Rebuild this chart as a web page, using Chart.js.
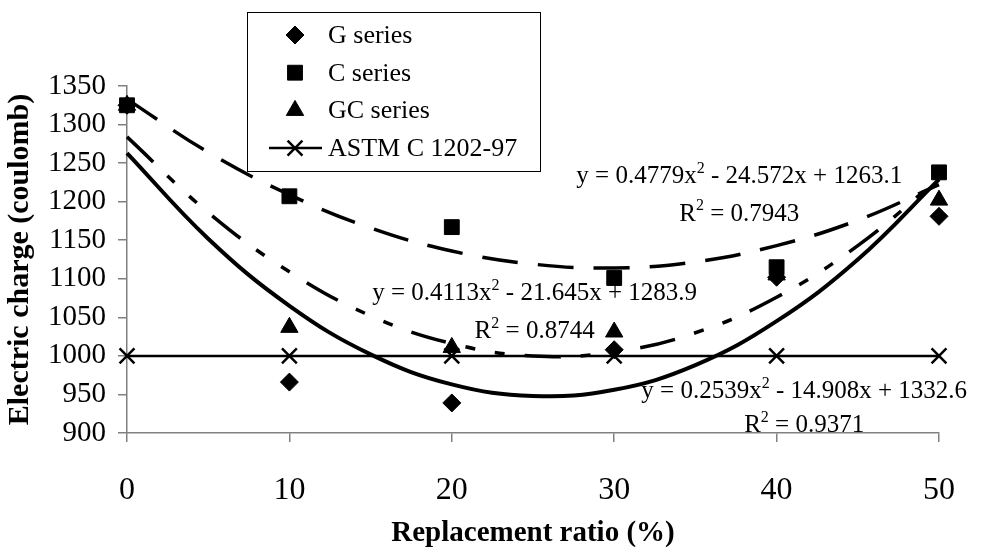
<!DOCTYPE html>
<html>
<head>
<meta charset="utf-8">
<title>Electric charge vs replacement ratio</title>
<script src="https://cdn.jsdelivr.net/npm/chart.js"></script>
<style>
  body { margin: 0; background: #fff; }
  #wrap { width: 984px; height: 548px; }
</style>
</head>
<body>
<div id="wrap"><canvas id="chart" width="984" height="548"></canvas></div>
<script>
// measured points
const ratios = [0, 10, 20, 30, 40, 50];
const gSeries = [1325, 966, 939, 1008, 1102, 1181];
const cSeries = [1325, 1207, 1167, 1101, 1115, 1238];
const gcSeries = [1325, 1037, 1011, 1031, 1105, 1202];
const astmLimit = [1000, 1000, 1000, 1000, 1000, 1000];

// trend curves every 5 %
const curveRatios = [0, 5, 10, 15, 20, 25, 30, 35, 40, 45, 50];
const gTrend = [1263, 1152, 1065, 1002, 963, 948, 956, 988, 1045, 1125, 1229];
const cTrend = [1333, 1264, 1209, 1166, 1136, 1119, 1114, 1122, 1143, 1176, 1222];
const gcTrend = [1284, 1186, 1109, 1052, 1016, 1000, 1005, 1030, 1076, 1143, 1230];

const xTicks = [0, 10, 20, 30, 40, 50];
const yTicks = [900, 950, 1000, 1050, 1100, 1150, 1200, 1250, 1300, 1350];

const seriesNames = ['G series', 'C series', 'GC series', 'ASTM C 1202-97'];

// trendline equations, superscript parts at odd index
const trendLabels = [
  { eq: ['y = 0.4779x', '2', ' - 24.572x + 1263.1'], r2: ['R', '2', ' = 0.7943'] },
  { eq: ['y = 0.4113x', '2', ' - 21.645x + 1283.9'], r2: ['R', '2', ' = 0.8744'] },
  { eq: ['y = 0.2539x', '2', ' - 14.908x + 1332.6'], r2: ['R', '2', ' = 0.9371'] }
];
// where each label sits, in axis units: [x, eq y, r2 y]
const labelSpots = [[37.7, 1224, 1175], [25.1, 1072, 1023], [41.7, 945, 901]];

const FONT = "'Liberation Serif', 'Times New Roman', serif";

function pts(xs, ys) {
  return xs.map((x, i) => ({ x, y: ys[i] }));
}

const markerStyles = [
  { pointStyle: 'rectRot', radius: 9 },
  { pointStyle: 'rect', radius: 10.5 },
  { pointStyle: 'triangle', radius: 10 },
  { pointStyle: 'crossRot', radius: 10.5 }
];

function drawSup(ctx, parts, cx, y, size) {
  const big = size + 'px ' + FONT;
  const small = Math.round(size * 0.62) + 'px ' + FONT;
  let total = 0;
  parts.forEach((p, i) => {
    ctx.font = i % 2 ? small : big;
    total += ctx.measureText(p).width;
  });
  let x = cx - total / 2;
  parts.forEach((p, i) => {
    ctx.font = i % 2 ? small : big;
    ctx.fillText(p, x, i % 2 ? y - size * 0.42 : y);
    x += ctx.measureText(p).width;
  });
}

const overlay = {
  id: 'overlay',
  afterDatasetsDraw(chart) {
    const ctx = chart.ctx;
    const xs = chart.scales.x, ys = chart.scales.y;
    ctx.save();
    ctx.fillStyle = '#000';
    ctx.textAlign = 'left';
    ctx.textBaseline = 'alphabetic';
    trendLabels.forEach((lab, i) => {
      const [x, y1, y2] = labelSpots[i];
      const px = xs.getPixelForValue(x);
      drawSup(ctx, lab.eq, px, ys.getPixelForValue(y1), 25);
      drawSup(ctx, lab.r2, px, ys.getPixelForValue(y2), 25);
    });

    // legend box
    ctx.fillStyle = '#fff';
    ctx.fillRect(247.5, 12.5, 293, 159);
    ctx.strokeStyle = '#000';
    ctx.lineWidth = 1;
    ctx.strokeRect(247.5, 12.5, 293, 159);
    ctx.font = '26px ' + FONT;
    ctx.textBaseline = 'middle';
    seriesNames.forEach((name, i) => {
      const y = 35 + i * 37.7;
      ctx.fillStyle = '#000';
      ctx.strokeStyle = '#000';
      if (i === 3) {
        ctx.lineWidth = 2.5;
        ctx.beginPath();
        ctx.moveTo(269, y);
        ctx.lineTo(322, y);
        ctx.stroke();
      } else {
        ctx.lineWidth = 1;
      }
      Chart.helpers.drawPoint(ctx, { ...markerStyles[i], rotation: 0, borderWidth: ctx.lineWidth }, 295, y);
      ctx.fillText(name, 328, y + 1);
    });
    ctx.restore();
  }
};

const pointSet = (name, data, i) => ({
  label: name,
  data,
  showLine: false,
  pointStyle: markerStyles[i].pointStyle,
  pointRadius: markerStyles[i].radius,
  pointBackgroundColor: '#000',
  pointBorderColor: '#000',
  pointBorderWidth: 1,
  clip: false
});

const trendSet = (name, data, width, dash) => ({
  label: name,
  data,
  showLine: true,
  pointRadius: 0,
  borderColor: '#000',
  borderWidth: width,
  borderDash: dash,
  tension: 0.4,
  fill: false,
  clip: false
});

new Chart(document.getElementById('chart'), {
  type: 'scatter',
  data: {
    datasets: [
      pointSet('C series', pts(ratios, cSeries), 1),
      pointSet('G series', pts(ratios, gSeries), 0),
      pointSet('GC series', pts(ratios, gcSeries), 2),
      {
        label: 'ASTM C 1202-97',
        data: pts(ratios, astmLimit),
        showLine: true,
        borderColor: '#000',
        borderWidth: 2.5,
        pointStyle: 'crossRot',
        pointRadius: 10.5,
        pointBorderColor: '#000',
        pointBorderWidth: 2.5,
        clip: false
      },
      trendSet('G trend', pts(curveRatios, gTrend), 4, []),
      trendSet('C trend', pts(curveRatios, cTrend), 3.5, [36, 20]),
      trendSet('GC trend', pts(curveRatios, gcTrend), 3.5, [36, 20, 10, 20, 10, 20])
    ]
  },
  options: {
    responsive: false,
    animation: false,
    events: [],
    layout: { padding: { top: 86, right: 25, bottom: 0, left: 0 } },
    plugins: { legend: { display: false }, tooltip: { enabled: false } },
    scales: {
      x: {
        type: 'linear',
        min: 0,
        max: 50,
        afterBuildTicks: s => { s.ticks = xTicks.map(v => ({ value: v })); },
        afterFit: s => { s.height = 115; },
        grid: { drawOnChartArea: false, tickLength: 9, color: '#808080', lineWidth: 1.5 },
        border: { color: '#808080', width: 1.5 },
        ticks: {
          font: { family: FONT, size: 32 }, color: '#000', padding: 29,
          maxRotation: 0, autoSkip: false, callback: v => String(v)
        },
        title: {
          display: true,
          text: 'Replacement ratio (%)',
          color: '#000',
          font: { family: FONT, size: 29, weight: 'bold', lineHeight: 1 },
          padding: { top: 0, bottom: 0 }
        }
      },
      y: {
        min: 900,
        max: 1350,
        afterBuildTicks: s => { s.ticks = yTicks.map(v => ({ value: v })); },
        afterFit: s => { s.width = 127; },
        grid: { drawOnChartArea: false, tickLength: 9, color: '#808080', lineWidth: 1.5 },
        border: { color: '#808080', width: 1.5 },
        ticks: {
          font: { family: FONT, size: 29 }, color: '#000', padding: 12,
          autoSkip: false, callback: v => String(v)
        },
        title: {
          display: true,
          text: 'Electric charge (coulomb)',
          color: '#000',
          font: { family: FONT, size: 30, weight: 'bold', lineHeight: 1 },
          padding: { top: 5, bottom: 0 }
        }
      }
    }
  },
  plugins: [overlay]
});
</script>
</body>
</html>
